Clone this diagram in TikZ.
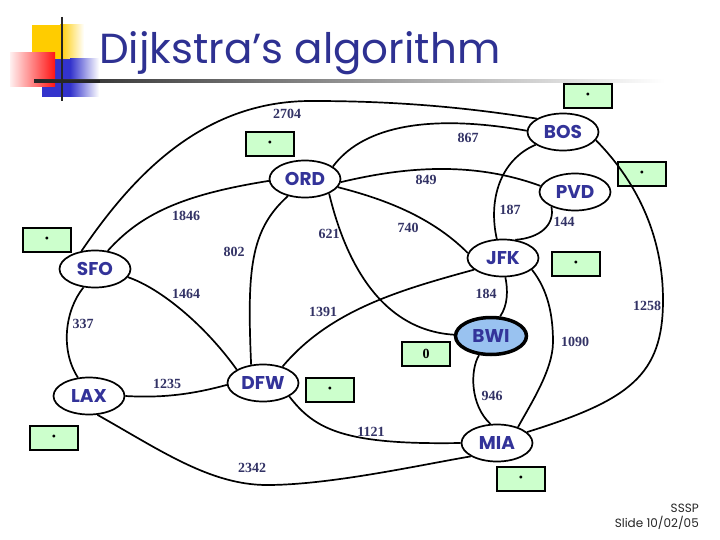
\documentclass[tikz,border=0pt]{standalone}
\usepackage{fontspec}
\setmainfont{Liberation Serif}
\newfontfamily\comicfont{Poppins}
\usetikzlibrary{shapes.geometric}
\definecolor{nodeblue}{RGB}{51,51,153}
\definecolor{titleblue}{RGB}{46,49,146}
\definecolor{labelblue}{RGB}{51,51,102}
\definecolor{boxgreen}{RGB}{204,255,204}
\definecolor{bwiblue}{RGB}{153,194,240}
\definecolor{logoyellow}{RGB}{255,204,0}
\definecolor{logoblue}{RGB}{51,51,204}
\definecolor{logored}{RGB}{255,20,20}
\begin{document}
\begin{tikzpicture}[x=1pt,y=-1pt,
 city/.style={ellipse, draw=black, line width=1.7pt, fill=white, minimum width=71pt, minimum height=37pt, inner sep=0pt, text=nodeblue, font=\comicfont\bfseries\fontsize{18.5}{18.5}\selectfont},
 distlabel/.style={text=labelblue, font=\bfseries\fontsize{14}{14}\selectfont, inner sep=0pt},
 dbox/.style={draw=black, line width=1.3pt, fill=boxgreen, minimum width=48pt, minimum height=24pt, inner sep=0pt, font=\fontsize{12}{12}\selectfont},
 road/.style={line width=1.7pt, draw=black},
]
\useasboundingbox (0,0) rectangle (720,540);
\fill[white] (0,0) rectangle (720,540);

% logo
\fill[logoyellow] (32,25) rectangle (60,59);
\shade[left color=logoyellow, right color=white] (60,25) rectangle (84,59);
\fill[logoblue] (42,59) rectangle (70,97);
\shade[left color=logoblue, right color=white] (70,59) rectangle (99,97);
\shade[left color=red!6, right color=logored] (10,53) rectangle (55,87);
\shade[left color=black!85, right color=white] (34,79.8) rectangle (665,82.6);
\fill[black!85] (34,79.8) rectangle (100,82.6);
\draw[line width=2pt, black!85] (62,17) -- (62,101);

% title
\node[anchor=base west, inner sep=0pt, text=titleblue, font=\comicfont\fontsize{42}{42}\selectfont] (title) at (99,64) {Dijkstra’s algorithm};

% footer
\node[anchor=east, inner sep=0pt, text=black!85, font=\comicfont\fontsize{12}{12}\selectfont] (f1) at (699,508) {SSSP};
\node[anchor=east, inner sep=0pt, text=black!85, font=\comicfont\fontsize{12}{12}\selectfont] (f2) at (699,523) {Slide 10/02/05};

% distance boxes
\node[dbox] (b1) at (588,96) {•};
\node[dbox] (b2) at (270,144) {•};
\node[dbox] (b3) at (642,174) {•};
\node[dbox] (b4) at (47,240) {•};
\node[dbox] (b5) at (576,264) {•};
\node[dbox, font=\bfseries\fontsize{14}{14}\selectfont] (b6) at (426,354) {0};
\node[dbox] (b7) at (330,390) {•};
\node[dbox] (b8) at (54,438) {•};
\node[dbox] (b9) at (521,479) {•};

% cities
\node[city] (BOS) at (563,132) {BOS};
\node[city] (PVD) at (575,192) {PVD};
\node[city] (JFK) at (503,258) {JFK};
\node[city] (ORD) at (305,179) {ORD};
\node[city] (SFO) at (95,269) {SFO};
\node[city] (LAX) at (89,396) {LAX};
\node[city] (DFW) at (263,383) {DFW};
\node[city, fill=bwiblue, line width=3.5pt] (BWI) at (491,336) {BWI};
\node[city] (MIA) at (497,443) {MIA};

% roads
\draw[road] (SFO.127) .. controls (130,180) and (200,100) .. (313,101) .. controls (400,101) and (470,108) .. (BOS.153);
\draw[road] (ORD.24) .. controls (360,130) and (420,112) .. (BOS.178);
\draw[road] (ORD.355) .. controls (400,168) and (470,160) .. (PVD.170);
\draw[road] (ORD.346) .. controls (380,198) and (430,215) .. (JFK.172);
\draw[road] (BOS.205) .. controls (500,160) and (488,200) .. (JFK.108);
\draw[road] (PVD.212) .. controls (555,225) and (540,238) .. (JFK.56);
\draw[road] (BOS.346) .. controls (640,185) and (663,240) .. (663,300) .. controls (663,375) and (630,400) .. (MIA.20);
\draw[road] (JFK.338) .. controls (548,290) and (553,315) .. (553,342) .. controls (553,370) and (530,405) .. (MIA.37);
\draw[road] (JFK.277) .. controls (508,290) and (508,305) .. (BWI.65);
\draw[road] (JFK.202) .. controls (400,290) and (330,310) .. (DFW.40);
\draw[road] (ORD.329) .. controls (345,260) and (380,330) .. (BWI.178);
\draw[road] (ORD.225) .. controls (250,230) and (247,270) .. (DFW.123);
\draw[road] (SFO.55) .. controls (140,215) and (180,195) .. (ORD.183);
\draw[road] (SFO.346) .. controls (160,288) and (205,325) .. (DFW.153);
\draw[road] (SFO.238) .. controls (65,310) and (60,350) .. (LAX.121);
\draw[road] (LAX.0) .. controls (160,398) and (190,395) .. (DFW.183);
\draw[road] (LAX.294) .. controls (160,450) and (210,485) .. (267,485) .. controls (330,485) and (420,465) .. (MIA.207);
\draw[road] (DFW.333) .. controls (315,430) and (345,445) .. (MIA.180);
\draw[road] (BWI.238) .. controls (470,370) and (470,405) .. (MIA.109);

% distances
\node[distlabel] (d2704) at (287,114) {2704};
\node[distlabel] (d867) at (468,138) {867};
\node[distlabel] (d849) at (426,180) {849};
\node[distlabel] (d187) at (510,210) {187};
\node[distlabel] (d144) at (564,222) {144};
\node[distlabel] (d740) at (408,228) {740};
\node[distlabel] (d621) at (329,234) {621};
\node[distlabel] (d1846) at (186,216) {1846};
\node[distlabel] (d802) at (234,252) {802};
\node[distlabel] (d1464) at (186,294) {1464};
\node[distlabel] (d1391) at (323,312) {1391};
\node[distlabel] (d337) at (83,324) {337};
\node[distlabel] (d184) at (486,294) {184};
\node[distlabel] (d1258) at (647,306) {1258};
\node[distlabel] (d1090) at (575,342) {1090};
\node[distlabel] (d946) at (492,396) {946};
\node[distlabel] (d1121) at (371,432) {1121};
\node[distlabel] (d1235) at (167,384) {1235};
\node[distlabel] (d2342) at (252,468) {2342};
\end{tikzpicture}
\end{document}
